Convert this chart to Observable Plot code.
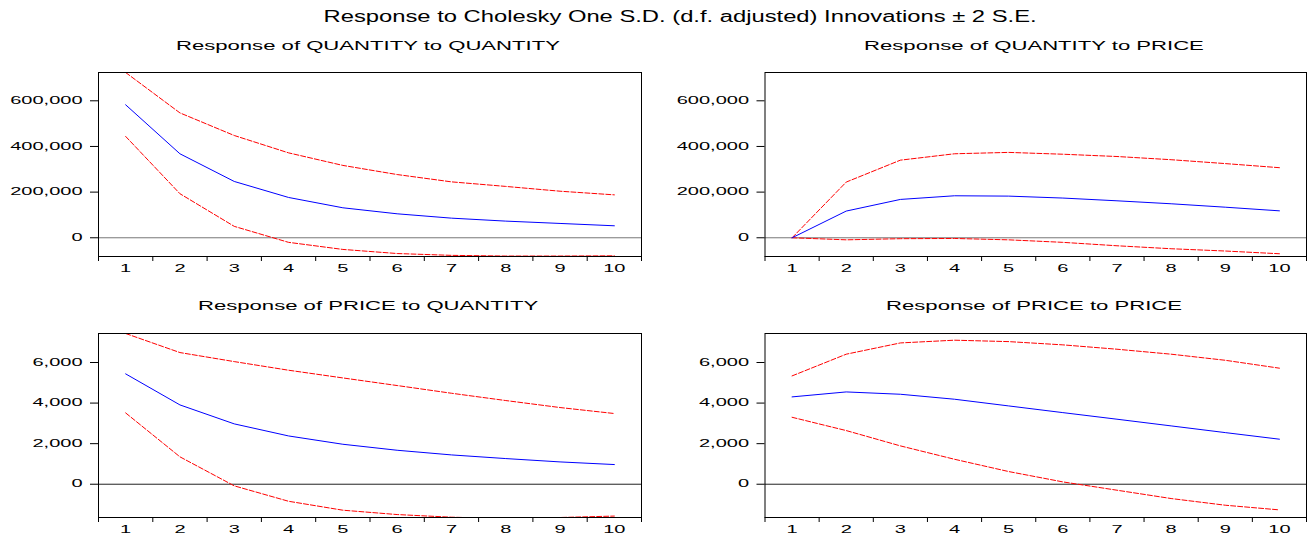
<!DOCTYPE html>
<html><head><meta charset="utf-8">
<script src="https://cdn.jsdelivr.net/npm/d3@7"></script>
<script src="https://cdn.jsdelivr.net/npm/@observablehq/plot@0.6"></script>
<style>
html,body{margin:0;padding:0;background:#fff;}
#root{position:relative;width:1310px;height:534px;overflow:hidden;font-family:"Liberation Sans",Arial,sans-serif;color:#000;background:#fff;}
.ttl{position:absolute;white-space:nowrap;text-align:center;}
.ttl span{display:inline-block;}
.panel{position:absolute;}
</style></head><body><div id="root"></div>
<script>
// ---- data ----
const periods = [1, 2, 3, 4, 5, 6, 7, 8, 9, 10];
const periodBoundaries = [0.5, 1.5, 2.5, 3.5, 4.5, 5.5, 6.5, 7.5, 8.5, 9.5, 10.5];

const mainTitle = "Response to Cholesky One S.D. (d.f. adjusted) Innovations \u00b1 2 S.E.";
const panelTitles = [
  "Response of QUANTITY to QUANTITY",
  "Response of QUANTITY to PRICE",
  "Response of PRICE to QUANTITY",
  "Response of PRICE to PRICE"
];

const quantityTicks = [0, 200000, 400000, 600000];
const priceTicks = [0, 2000, 4000, 6000];
const quantityDomain = [-82000, 724000];
const priceDomain = [-1640, 7430];

// Response of QUANTITY to QUANTITY
const qqResp  = [582500, 367900, 246700, 176600, 131400, 105000, 86000, 73000, 62800, 52500];
const qqUpper = [724000, 547000, 448000, 372000, 317000, 277000, 245000, 225000, 204000, 188000];
const qqLower = [444000, 193000, 50000, -20000, -51000, -69000, -77000, -80000, -80000, -79000];

// Response of QUANTITY to PRICE
const qpResp  = [0, 117000, 168000, 184000, 182500, 174000, 162000, 149000, 134000, 118000];
const qpUpper = [0, 244000, 340000, 368000, 374000, 366000, 356000, 342000, 325000, 307000];
const qpLower = [0, -9000, -4000, -3000, -9000, -20000, -35000, -48000, -58000, -70000];

// Response of PRICE to QUANTITY
const pqResp  = [5440, 3910, 2975, 2380, 1970, 1675, 1445, 1265, 1100, 970];
const pqUpper = [7430, 6490, 6045, 5620, 5240, 4865, 4485, 4125, 3780, 3485];
const pqLower = [3515, 1350, -80, -840, -1280, -1495, -1625, -1690, -1640, -1570];

// Response of PRICE to PRICE
const ppResp  = [4305, 4550, 4435, 4190, 3860, 3530, 3205, 2875, 2545, 2220];
const ppUpper = [5340, 6410, 6965, 7100, 7030, 6870, 6655, 6410, 6110, 5720];
const ppLower = [3300, 2645, 1890, 1230, 625, 115, -295, -705, -1035, -1265];

// ---- layout ----
const root = document.getElementById("root");

function addTitle(text, centerX, top, size, scale) {
  const d = document.createElement("div");
  d.className = "ttl";
  d.style.left = (centerX - 400) + "px";
  d.style.width = "800px";
  d.style.top = top + "px";
  d.style.fontSize = size + "px";
  d.style.lineHeight = size + "px";
  const s = document.createElement("span");
  s.textContent = text;
  s.style.transform = `scaleX(${scale})`;
  d.appendChild(s);
  root.appendChild(d);
}

function stretchText(svg, k) {
  svg.querySelectorAll("text").forEach(t => {
    const L = t.getComputedTextLength();
    if (L > 0) {
      t.setAttribute("textLength", (L * k).toFixed(2));
      t.setAttribute("lengthAdjust", "spacingAndGlyphs");
    }
  });
}

const panels = [
  {title: panelTitles[0], resp: qqResp, upper: qqUpper, lower: qqLower, domain: quantityDomain, ticks: quantityTicks,
   left: 0, top: 60, width: 655, height: 216, mL: 98, mR: 14, mT: 12, mB: 20, zero: "#777", tx: 368, ty: 39},
  {title: panelTitles[1], resp: qpResp, upper: qpUpper, lower: qpLower, domain: quantityDomain, ticks: quantityTicks,
   left: 655, top: 60, width: 655, height: 216, mL: 109.5, mR: 4, mT: 12, mB: 20, zero: "#777", tx: 1034, ty: 39},
  {title: panelTitles[2], resp: pqResp, upper: pqUpper, lower: pqLower, domain: priceDomain, ticks: priceTicks,
   left: 0, top: 321, width: 655, height: 213, mL: 98, mR: 14, mT: 12, mB: 17, zero: "#222", tx: 368, ty: 299},
  {title: panelTitles[3], resp: ppResp, upper: ppUpper, lower: ppLower, domain: priceDomain, ticks: priceTicks,
   left: 655, top: 321, width: 655, height: 213, mL: 109.5, mR: 4, mT: 12, mB: 17, zero: "#222", tx: 1034, ty: 299}
];

addTitle(mainTitle, 680, 9, 16, 1.485);

for (const p of panels) {
  addTitle(p.title, p.tx, p.ty, 13, 1.7);
  const rows = periods.map((t, i) => ({period: t, resp: p.resp[i], upper: p.upper[i], lower: p.lower[i]}));
  const svg = Plot.plot({
    width: p.width,
    height: p.height,
    marginLeft: p.mL,
    marginRight: p.mR,
    marginTop: p.mT,
    marginBottom: p.mB,
    x: {domain: [0.5, 10.5], axis: null},
    y: {domain: p.domain, axis: null},
    style: {fontFamily: "'Liberation Sans', Arial, sans-serif", fontSize: "10px", color: "#000", background: "transparent", overflow: "visible"},
    marks: [
      Plot.ruleY([0], {stroke: p.zero, strokeWidth: 1}),
      Plot.line(rows, {x: "period", y: "upper", stroke: "#ff0000", strokeWidth: 1, strokeDasharray: "5,2", clip: true}),
      Plot.line(rows, {x: "period", y: "lower", stroke: "#ff0000", strokeWidth: 1, strokeDasharray: "5,2", clip: true}),
      Plot.line(rows, {x: "period", y: "resp", stroke: "#0000ff", strokeWidth: 1, clip: true}),
      Plot.axisY(p.ticks, {anchor: "left", tickSize: 8, tickPadding: 8, tickFormat: d3.format(","), label: null, stroke: "#000"}),
      Plot.axisX(periodBoundaries, {anchor: "bottom", tickSize: 5, tickFormat: () => "", label: null, stroke: "#000"}),
      Plot.axisX(periods, {anchor: "bottom", tickSize: 0, tickPadding: 8, tickFormat: d => String(d), label: null}),
      Plot.frame({stroke: "#000", strokeWidth: 1})
    ]
  });
  const holder = document.createElement("div");
  holder.className = "panel";
  holder.style.left = p.left + "px";
  holder.style.top = p.top + "px";
  holder.appendChild(svg);
  root.appendChild(holder);
  stretchText(svg, 2.0);
}
</script>
</body></html>
